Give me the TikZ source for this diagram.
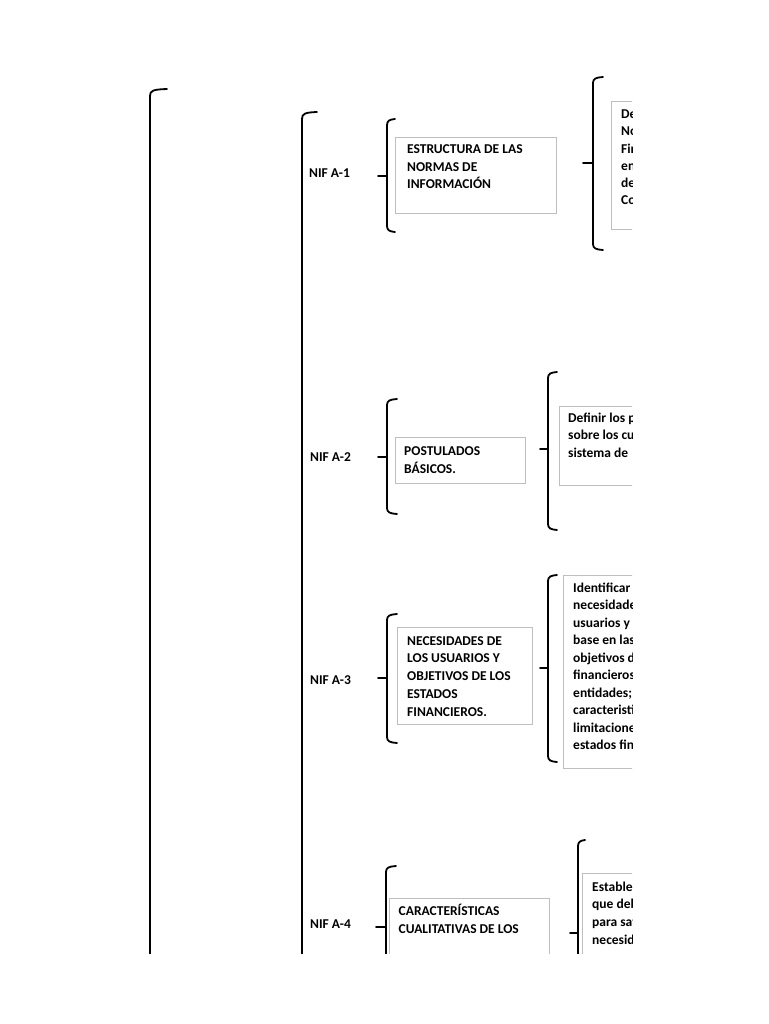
\documentclass[tikz,border=0pt]{standalone}
\usepackage{fontspec}
\setmainfont{Carlito}
\usetikzlibrary{positioning}

% bracket: x, top, bottom, hook end, tick start, tick height
\newcommand{\nifbrace}[6]{%
  \draw[bracket] (#4,#2) .. controls (#1+3,#2+0.5) and (#1,#2+1.5) .. (#1,#2+6)
    -- (#1,#3-6) .. controls (#1,#3-1.5) and (#1+3,#3-0.5) .. (#4,#3);
  \draw[bracket] (#5,#6) -- (#1,#6);}

\begin{document}
\begin{tikzpicture}[x=1pt, y=-1pt,
    nifbox/.style={draw=black!25, line width=0.9pt, inner sep=0pt, anchor=north west},
    boxtext/.style={anchor=north west, inner sep=0pt, align=left, font=\bfseries\fontsize{13.5}{#1}\selectfont},
    boxtext/.default=17.5,
    niflabel/.style={anchor=base west, inner sep=0pt, font=\bfseries\fontsize{13.5}{15}\selectfont},
    bracket/.style={line width=1.8pt, line cap=round}]
    \useasboundingbox[fill=white] (0,0) rectangle (768,1024);

    \begin{scope}
    \clip (0,0) rectangle (632,953);

    % Main brackets
    \draw[bracket] (167,89) .. controls (153,89.5) and (150,90.5) .. (150,96) -- (150,990);
    \draw[bracket] (317,112) .. controls (305,112.5) and (302,113.5) .. (302,119) -- (302,990);

    % Nodes
    \node[niflabel] (a1) at (309,177.5) {NIF A-1};
    \node[niflabel] (a2) at (310,461.5) {NIF A-2};
    \node[niflabel] (a3) at (310,684.5) {NIF A-3};
    \node[niflabel] (a4) at (310,928.5) {NIF A-4};

    \node[nifbox, minimum width=161pt, minimum height=76pt] (estructura) at (395,137) {};
    \node[boxtext=17.5] (estructuraTxt) at ([xshift=12pt, yshift=-5.5pt]estructura.north west)
        {\rule{0pt}{11pt}ESTRUCTURA DE LAS\\NORMAS DE\\INFORMACIÓN};
    \node[nifbox, minimum width=60pt, minimum height=128pt] (obj1) at (611,101) {};
    \node[boxtext=17.2] (obj1Txt) at ([xshift=10pt, yshift=-6.5pt]obj1.north west)
        {\rule{0pt}{11pt}Def\\Nor\\Fin\\en\\de\\Con};

    \node[nifbox, minimum width=130pt, minimum height=46pt] (postulados) at (395,437) {};
    \node[boxtext=18] (postuladosTxt) at ([xshift=9pt, yshift=-7pt]postulados.north west)
        {\rule{0pt}{11pt}POSTULADOS\\BÁSICOS.};
    \node[nifbox, minimum width=100pt, minimum height=79pt] (obj2) at (559,406) {};
    \node[boxtext=17.5] (obj2Txt) at ([xshift=9pt, yshift=-5pt]obj2.north west)
        {\rule{0pt}{11pt}Definir los po\\sobre los cua\\sistema de};

    \node[nifbox, minimum width=135pt, minimum height=97pt] (necesidades) at (397,627) {};
    \node[boxtext=17.7] (necesidadesTxt) at ([xshift=10pt, yshift=-7pt]necesidades.north west)
        {\rule{0pt}{11pt}NECESIDADES DE\\LOS USUARIOS Y\\OBJETIVOS DE LOS\\ESTADOS\\FINANCIEROS.};
    \node[nifbox, minimum width=100pt, minimum height=193pt] (obj3) at (563,575) {};
    \node[boxtext=17.5] (obj3Txt) at ([xshift=10pt, yshift=-6pt]obj3.north west)
        {\rule{0pt}{11pt}Identificar\\necesidades\\usuarios y\\base en las\\objetivos de\\financieros\\entidades;\\caracteristi\\limitacione\\estados fin};

    \node[nifbox, minimum width=160pt, minimum height=90pt] (caracteristicas) at (389,898) {};
    \node[boxtext=17.7] (caracteristicasTxt) at ([xshift=9.5pt, yshift=-6pt]caracteristicas.north west)
        {\rule{0pt}{11pt}CARACTERÍSTICAS\\CUALITATIVAS DE LOS};
    \node[nifbox, minimum width=100pt, minimum height=110pt] (obj4) at (582,873) {};
    \node[boxtext=17.6] (obj4Txt) at ([xshift=10pt, yshift=-7pt]obj4.north west)
        {\rule{0pt}{11pt}Establec\\que deb\\para sat\\necesid};

    % Brackets
    \nifbrace{387}{119}{232}{395}{378}{176}
    \nifbrace{593}{77}{250}{603}{583}{163}
    \nifbrace{387}{399}{514}{397}{378}{457}
    \nifbrace{548}{372}{530}{557}{540}{449}
    \nifbrace{387}{614}{743}{397}{378}{678}
    \nifbrace{548}{575}{762}{557}{540}{668}
    \nifbrace{386}{866}{990}{396}{376}{927}
    \nifbrace{578}{840}{990}{585}{570}{933}
    \end{scope}
\end{tikzpicture}
\end{document}
